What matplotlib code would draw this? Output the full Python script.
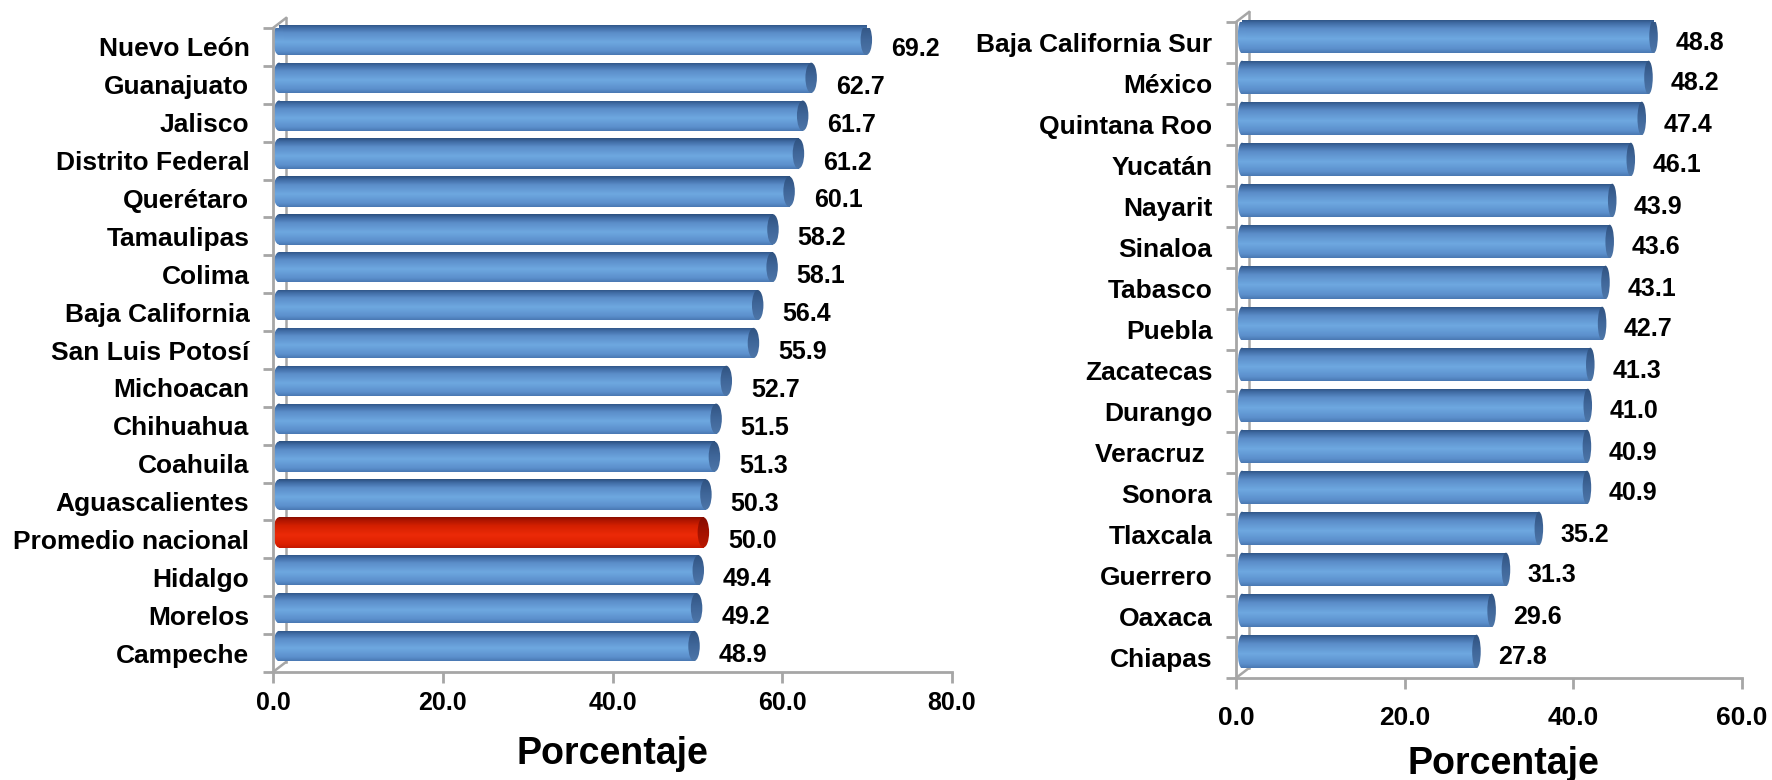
import numpy as np
import matplotlib
matplotlib.use("Agg")
import matplotlib.pyplot as plt
from matplotlib import patches, transforms
from matplotlib.colors import LinearSegmentedColormap

# ---------------- data ----------------
left_states = ["Nuevo León", "Guanajuato", "Jalisco", "Distrito Federal", "Querétaro",
               "Tamaulipas", "Colima", "Baja California", "San Luis Potosí", "Michoacan",
               "Chihuahua", "Coahuila", "Aguascalientes", "Promedio nacional", "Hidalgo",
               "Morelos", "Campeche"]
left_values = [69.2, 62.7, 61.7, 61.2, 60.1, 58.2, 58.1, 56.4, 55.9, 52.7,
               51.5, 51.3, 50.3, 50.0, 49.4, 49.2, 48.9]
left_ticks = [0, 20, 40, 60, 80]

right_states = ["Baja California Sur", "México", "Quintana Roo", "Yucatán", "Nayarit",
                "Sinaloa", "Tabasco", "Puebla", "Zacatecas", "Durango", "Veracruz ",
                "Sonora", "Tlaxcala", "Guerrero", "Oaxaca", "Chiapas"]
right_values = [48.8, 48.2, 47.4, 46.1, 43.9, 43.6, 43.1, 42.7, 41.3, 41.0,
                40.9, 40.9, 35.2, 31.3, 29.6, 27.8]
right_ticks = [0, 20, 40, 60]

highlight = "Promedio nacional"
xlabel = "Porcentaje"

# ---------------- style ----------------
plt.rcParams['font.family'] = ['Liberation Sans', 'DejaVu Sans']
GRAY = "#a6a6a6"
blue_cmap = LinearSegmentedColormap.from_list(
    "cylb", [(0.0, "#4a79b3"), (0.12, "#5b8fcc"), (0.42, "#6ea8e0"),
             (0.72, "#5b8dc9"), (0.9, "#3f6aa2"), (1.0, "#2b507f")])
red_cmap = LinearSegmentedColormap.from_list(
    "cylr", [(0.0, "#c41800"), (0.12, "#dc2000"), (0.42, "#ec2a08"),
             (0.72, "#d42000"), (0.9, "#b01500"), (1.0, "#8a0e00")])
blue_cap = LinearSegmentedColormap.from_list("capb", ["#4d76a8", "#40679a", "#2f5280"])
red_cap = LinearSegmentedColormap.from_list("capr", ["#b81800", "#a41200", "#850c00"])

grad = np.linspace(0, 1, 64).reshape(-1, 1)

fig = plt.figure(figsize=(17.72, 7.8), dpi=100)


def panel(rect, states, values, ticks, xmax, bar_h, bar_dy, tick_pad, lab_dy, lab_gap,
          tick_fs, xl_pos):
    ax = fig.add_axes(rect)
    n = len(states)
    ys = np.arange(n)[::-1]
    ax.set_xlim(0, xmax)
    ax.set_ylim(-0.5, n - 0.5)
    off = transforms.offset_copy(ax.transData, fig=fig, x=6, y=bar_dy, units='dots')
    cap_w = 1.35 * xmax / 80.0
    for s, v, y in zip(states, values, ys):
        hl = (s == highlight)
        cm = red_cmap if hl else blue_cmap
        cc = red_cap if hl else blue_cap
        y0, y1 = y - bar_h / 2, y + bar_h / 2
        # body
        body = patches.Rectangle((0, y0), v, bar_h, transform=off,
                                 facecolor='none', edgecolor='none')
        ax.add_patch(body)
        im = ax.imshow(grad, cmap=cm, extent=(0, v, y1, y0), aspect='auto',
                       transform=off, interpolation='bilinear', zorder=2)
        im.set_clip_path(body)
        # left rounded end
        le = patches.Ellipse((0, y), cap_w, bar_h, transform=off,
                             facecolor='none', edgecolor='none')
        ax.add_patch(le)
        im2 = ax.imshow(grad, cmap=cm, extent=(-cap_w, cap_w, y1, y0), aspect='auto',
                        transform=off, interpolation='bilinear', zorder=2)
        im2.set_clip_path(le)
        # right end cap
        ce = patches.Ellipse((v, y), cap_w, bar_h, transform=off,
                             facecolor='none', edgecolor='none')
        ax.add_patch(ce)
        im3 = ax.imshow(grad, cmap=cc, extent=(v - cap_w, v + cap_w, y1, y0),
                        aspect='auto', transform=off, interpolation='bilinear', zorder=3)
        im3.set_clip_path(ce)
        # value label
        lab_t = transforms.offset_copy(ax.transData, fig=fig, x=0, y=lab_dy, units='dots')
        ax.text(v + lab_gap * xmax / 80.0, y, f"{v:.1f}", transform=lab_t,
                ha='left', va='center', fontsize=18, fontweight='bold',
                color='black', zorder=5, clip_on=False)
    ax.set_xlim(0, xmax)
    ax.set_ylim(-0.5, n - 0.5)

    # spines / 3D frame
    for sp in ['top', 'right']:
        ax.spines[sp].set_visible(False)
    for sp in ['left', 'bottom']:
        ax.spines[sp].set_color(GRAY)
        ax.spines[sp].set_linewidth(2)
    back = transforms.offset_copy(ax.transAxes, fig=fig, x=13, y=10, units='dots')
    ax.plot([0, 0], [0, 1], color=GRAY, lw=1.8, transform=back, zorder=1, clip_on=False)
    for yy in (0, 1):
        p0 = ax.transAxes.transform((0, yy))
        p1 = p0 + np.array([13, 10])
        ax.plot([p0[0], p1[0]], [p0[1], p1[1]], color=GRAY, lw=1.8,
                transform=None, zorder=1, clip_on=False)

    ax.set_xticks(ticks)
    ax.set_xticklabels([f"{t:.1f}" for t in ticks], fontsize=tick_fs, fontweight='bold')
    ax.tick_params(axis='x', length=8, width=2, color=GRAY, pad=tick_pad)
    ax.set_yticks(ys)
    ax.set_yticklabels(states, fontsize=19, fontweight='bold')
    ax.set_yticks(np.arange(n + 1) - 0.5, minor=True)
    ax.tick_params(axis='y', which='major', length=0, pad=17)
    ax.tick_params(axis='y', which='minor', length=7, width=2, color=GRAY)
    ax.set_facecolor('none')
    fig.text(xl_pos[0], xl_pos[1], xlabel, ha='center', va='center', fontsize=27,
             fontweight='bold')
    return ax


panel([273 / 1772, 1 - 672 / 780, 679 / 1772, 644 / 780], left_states, left_values,
      left_ticks, 80, 0.8, 7, 6, -2, 3.6, 18, (612 / 1772, 1 - 754 / 780))
panel([1236 / 1772, 1 - 678 / 780, 506 / 1772, 656 / 780], right_states, right_values,
      right_ticks, 60, 0.82, 6, 12, 0, 4.4, 19, (1503 / 1772, 1 - 764 / 780))

fig.savefig("out.png", dpi=100)
